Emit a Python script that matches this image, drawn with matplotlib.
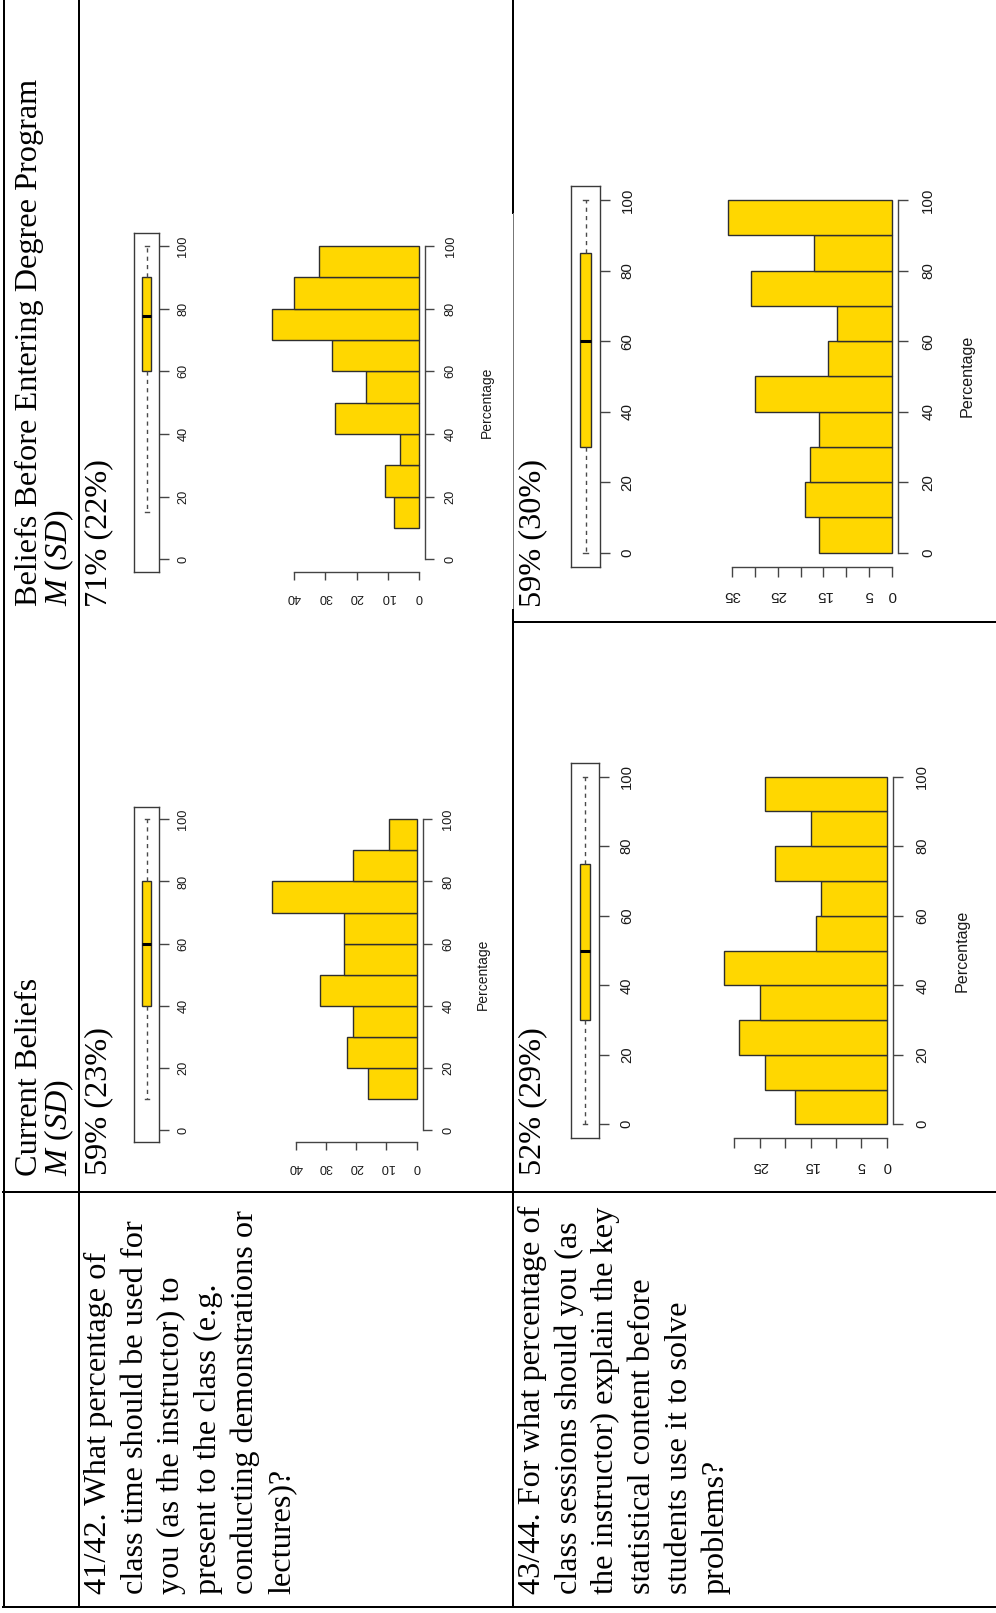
import matplotlib
matplotlib.use("Agg")
import matplotlib.pyplot as plt
from matplotlib.lines import Line2D

# ---------------- data ----------------
header_current = ["Current Beliefs", "$M$ ($SD$)"]
header_before = ["Beliefs Before Entering Degree Program", "$M$ ($SD$)"]

q41_lines = ["41/42. What percentage of",
             "class time should be used for",
             "you (as the instructor) to",
             "present to the class (e.g.",
             "conducting demonstrations or",
             "lectures)?"]
q43_lines = ["43/44. For what percentage of",
             "class sessions should you (as",
             "the instructor) explain the key",
             "statistical content before",
             "students use it to solve",
             "problems?"]

stat_q41_current = "59% (23%)"
stat_q41_before = "71% (22%)"
stat_q43_current = "52% (29%)"
stat_q43_before = "59% (30%)"

# histogram bins (left edges, width 10) and frequencies
bins_q41_current = [10, 20, 30, 40, 50, 60, 70, 80, 90]
freq_q41_current = [16, 23, 21, 32, 24, 24, 48, 21, 9]
bins_q41_before = [10, 20, 30, 40, 50, 60, 70, 80, 90]
freq_q41_before = [8, 11, 6, 27, 17, 28, 47, 40, 32]
bins_q43_current = [0, 10, 20, 30, 40, 50, 60, 70, 80, 90]
freq_q43_current = [18, 24, 29, 25, 32, 14, 13, 22, 15, 24]
bins_q43_before = [0, 10, 20, 30, 40, 50, 60, 70, 80, 90]
freq_q43_before = [16, 19, 18, 16, 30, 14, 12, 31, 17, 36]

# boxplot five-number summaries: low whisker, Q1, median, Q3, high whisker
box_q41_current = [10, 40, 60, 80, 100]
box_q41_before = [15, 60, 77.5, 90, 100]
box_q43_current = [0, 30, 50, 75, 100]
box_q43_before = [0, 30, 60, 85, 100]

pct_ticks = [0, 20, 40, 60, 80, 100]
count_ticks_q41 = [0, 10, 20, 30, 40]
count_labels_q41 = ["0", "10", "20", "30", "40"]
count_ticks_q43_current = [0, 5, 10, 15, 20, 25, 30]
count_labels_q43_current = ["0", "5", "", "15", "", "25", ""]
count_ticks_q43_before = [0, 5, 10, 15, 20, 25, 30, 35]
count_labels_q43_before = ["0", "5", "", "15", "", "25", "", "35"]
axis_label = "Percentage"

# ---------------- setup ----------------
plt.rcParams["mathtext.fontset"] = "custom"
plt.rcParams["mathtext.rm"] = "Liberation Serif"
plt.rcParams["mathtext.it"] = "Liberation Serif:italic"

W, H = 996, 1613
fig = plt.figure(figsize=(W / 100, H / 100), dpi=100)
fig.patch.set_facecolor("white")

def X(px):
    return px / W

def Y(py):
    return 1 - py / H

SERIF = "Liberation Serif"
SANS = "Liberation Sans"
TXT = 23.2
GOLD = "#FFD700"
AX = "#444444"
LAB = "#1a1a1a"

# ---------------- table lines ----------------
table_lines = [
    (4, 0, 4, 1607, 2.0, "black"),
    (79, 0, 79, 1607, 2.0, "black"),
    (513, 0, 513, 213, 2.0, "black"),
    (513, 213, 513, 610, 1.0, "#777777"),
    (513, 610, 513, 1607, 2.0, "black"),
    (513, 622, 996, 622, 2.0, "black"),
    (3, 1192, 996, 1192, 2.0, "black"),
    (3, 1607, 996, 1607, 2.0, "black"),
]
for x0, y0, x1, y1, lw, c in table_lines:
    fig.add_artist(Line2D([X(x0), X(x1)], [Y(y0), Y(y1)], transform=fig.transFigure,
                          lw=lw * 0.72, color=c, solid_capstyle="projecting"))

# ---------------- texts ----------------
def vtext(xb, ys, s, size=TXT):
    fig.text(X(xb), Y(ys), s, rotation=90, rotation_mode="anchor",
             ha="left", va="baseline", fontsize=size, family=SERIF, color="black")

vtext(37, 1176, header_current[0])
vtext(67, 1176, header_current[1])
vtext(37, 606, header_before[0])
vtext(67, 606, header_before[1])

vtext(106, 1175, stat_q41_current)
vtext(106, 607, stat_q41_before)
vtext(540, 1175, stat_q43_current)
vtext(540, 607, stat_q43_before)

LS = 36.7
for i, s in enumerate(q41_lines):
    vtext(106 + i * LS, 1594, s)
for i, s in enumerate(q43_lines):
    vtext(540 + i * LS, 1594, s)

# ---------------- panels ----------------
def panel(bins, freq, box, ct, cl, y0, y100, xb, ppc, box_x, box_w,
          fs_tick, fs_lab, lab_x, hist_pads, box_pad):
    ppu = (y0 - y100) / 100.0
    top_px = y100 - 4 * ppu
    bot_px = y0 + 4 * ppu

    # histogram (rotated: percentage vertical, frequency extending left)
    maxc = max(freq)
    lo, hi = -0.04 * maxc, 1.04 * maxc
    left_px = xb - hi * ppc
    right_px = xb - lo * ppc
    ax = fig.add_axes([X(left_px), Y(bot_px), (right_px - left_px) / W, (bot_px - top_px) / H])
    ax.barh(bins, freq, height=10, align="edge", color=GOLD, edgecolor="#2e2e2e", linewidth=1.0)
    ax.set_xlim(hi, lo)
    ax.set_ylim(-4, 104)
    ax.set_facecolor("none")
    for s in ["top", "left"]:
        ax.spines[s].set_visible(False)
    ax.spines["right"].set_bounds(0, 100)
    ax.spines["bottom"].set_bounds(ct[0], ct[-1])
    for s in ["right", "bottom"]:
        ax.spines[s].set_color(AX)
        ax.spines[s].set_linewidth(1.0)
    ax.yaxis.tick_right()
    ax.set_yticks(pct_ticks)
    ax.set_yticklabels([str(t) for t in pct_ticks], rotation=90, va="center", ha="left",
                       fontsize=fs_tick, family=SANS, color=LAB)
    ax.set_xticks(ct)
    ax.set_xticklabels(cl, rotation=180, ha="center", va="top",
                       fontsize=fs_tick, family=SANS, color=LAB)
    ax.tick_params(axis="y", length=hist_pads[0], pad=hist_pads[1], color=AX, width=1.0)
    ax.tick_params(axis="x", length=hist_pads[2], pad=hist_pads[3], color=AX, width=1.0)
    lx = (lab_x - left_px) / (right_px - left_px)
    ax.text(lx, 0.5, axis_label, transform=ax.transAxes, rotation=90, ha="center",
            va="center", fontsize=fs_lab, family=SANS, color=LAB)

    # boxplot (rotated: vertical box)
    bx = fig.add_axes([X(box_x[0]), Y(bot_px), (box_x[1] - box_x[0]) / W, (bot_px - top_px) / H])
    stats = [dict(whislo=box[0], q1=box[1], med=box[2], q3=box[3], whishi=box[4], fliers=[])]
    bx.bxp(stats, positions=[1], widths=box_w, patch_artist=True, showfliers=False,
           boxprops=dict(facecolor=GOLD, edgecolor="#2e2e2e", linewidth=1.0),
           medianprops=dict(color="black", linewidth=2.2),
           whiskerprops=dict(color="#4a4a4a", linestyle=(0, (3, 3)), linewidth=1.0),
           capprops=dict(color="#4a4a4a", linewidth=1.0), capwidths=0.15)
    bx.set_xlim(0.5, 1.5)
    bx.set_ylim(-4, 104)
    bx.set_xticks([])
    for s in bx.spines.values():
        s.set_color("#3a3a3a")
        s.set_linewidth(1.0)
    bx.yaxis.tick_right()
    bx.set_yticks(pct_ticks)
    bx.set_yticklabels([str(t) for t in pct_ticks], rotation=90, va="center", ha="left",
                       fontsize=fs_tick, family=SANS, color=LAB)
    bx.tick_params(axis="y", length=box_pad[0], pad=box_pad[1], color=AX, width=1.0)


panel(bins_q41_current, freq_q41_current, box_q41_current, count_ticks_q41, count_labels_q41,
      y0=1130, y100=819.3, xb=416.7, ppc=3.025, box_x=(134, 159.3), box_w=0.38,
      fs_tick=9.2, fs_lab=10.0, lab_x=483, hist_pads=(6.5, 7.8, 5.5, 8.0), box_pad=(7, 6.0))
panel(bins_q41_before, freq_q41_before, box_q41_before, count_ticks_q41, count_labels_q41,
      y0=559.3, y100=246, xb=419, ppc=3.125, box_x=(134, 159.3), box_w=0.38,
      fs_tick=9.2, fs_lab=10.0, lab_x=486.7, hist_pads=(6.5, 7.8, 5.5, 8.0), box_pad=(7, 6.0))
panel(bins_q43_current, freq_q43_current, box_q43_current, count_ticks_q43_current,
      count_labels_q43_current,
      y0=1124.3, y100=776.7, xb=886.7, ppc=5.08, box_x=(571, 599.3), box_w=0.36,
      fs_tick=10.6, fs_lab=11.6, lab_x=961.7, hist_pads=(7.2, 8.6, 7, 8.2), box_pad=(7.2, 7.6))
panel(bins_q43_before, freq_q43_before, box_q43_before, count_ticks_q43_before,
      count_labels_q43_before,
      y0=552.7, y100=200, xb=891.7, ppc=4.554, box_x=(571, 600), box_w=0.355,
      fs_tick=10.9, fs_lab=11.6, lab_x=966.7, hist_pads=(7.2, 9.4, 7.2, 8.0), box_pad=(7.2, 7.6))

fig.savefig("out.png", dpi=100, facecolor="white")
